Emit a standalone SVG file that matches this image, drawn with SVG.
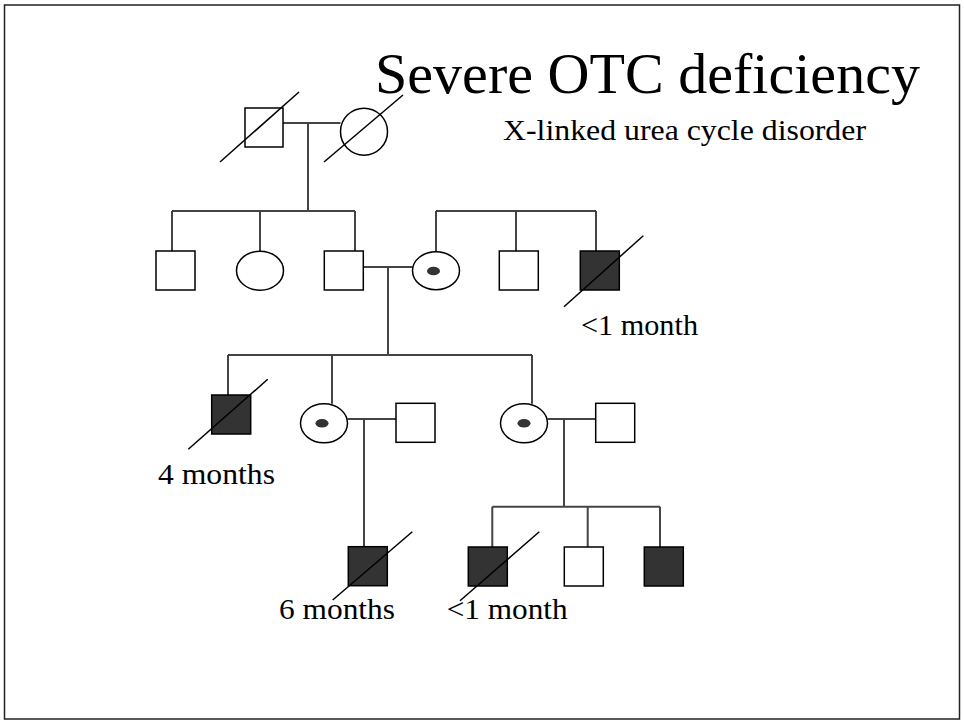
<svg xmlns="http://www.w3.org/2000/svg" width="964" height="723" viewBox="0 0 964 723">
  <style>
    .male { fill: #ffffff; stroke: #000000; stroke-width: 1.5; }
    .affected { fill: #333333; stroke: #000000; stroke-width: 1.5; }
    .female { fill: #ffffff; stroke: #000000; stroke-width: 1.5; }
    .carrier-dot { fill: #333333; stroke: none; }
    .deceased { stroke: #000000; stroke-width: 1.5; fill: none; }
    .link { stroke: #444444; stroke-width: 2; fill: none; }
    .title { font-family: "Liberation Serif", "Times New Roman", serif; font-size: 58px; fill: #000000; }
    .label { font-family: "Liberation Serif", "Times New Roman", serif; font-size: 30px; fill: #000000; }
  </style>

  <rect x="0" y="0" width="964" height="723" fill="#ffffff"/>
  <!-- slide frame -->
  <rect x="4.5" y="5" width="955" height="714" fill="none" stroke="#222222" stroke-width="1.5"/>

  <text class="title" x="375" y="93" textLength="545" lengthAdjust="spacingAndGlyphs">Severe OTC deficiency</text>
  <text class="label" x="503" y="140" textLength="363" lengthAdjust="spacingAndGlyphs">X-linked urea cycle disorder</text>

  <!-- connectors: marriage lines, descent lines and sibship lines -->
  <g id="connectors">
    <path class="link" d="M283,123 H340.5 M308,123 V211"/>
    <path class="link" d="M172,211 H355 M172,211 V251 M260,211 V251.2 M355,211 V251"/>
    <path class="link" d="M363.3,267 H412.5 M388,267 V355"/>
    <path class="link" d="M436,211 H596 M436,211 V251.7 M516,211 V251 M596,211 V251"/>
    <path class="link" d="M228,355 H532 M228,355 V395 M332,355 V403.8 M532,355 V403.8"/>
    <path class="link" d="M347.5,419 H396 M364,419 V546.7"/>
    <path class="link" d="M547.5,419 H595.7 M564,419 V506.7"/>
    <path class="link" d="M492.3,506.7 H660 M492.3,506.7 V547 M587.7,506.7 V547 M660,506.7 V547"/>
  </g>

  <!-- generation I -->
  <g id="grandfather">
    <rect class="male" x="245" y="108" width="38" height="39"/>
    <line class="deceased" x1="220" y1="162" x2="299" y2="92"/>
  </g>
  <g id="grandmother">
    <ellipse class="female" cx="364" cy="131.7" rx="23.5" ry="23.5"/>
    <line class="deceased" x1="324" y1="162" x2="403" y2="95"/>
  </g>

  <!-- generation II -->
  <g id="uncle">
    <rect class="male" x="156" y="251" width="39" height="39"/>
  </g>
  <g id="aunt">
    <ellipse class="female" cx="260" cy="270.7" rx="23.5" ry="19.5"/>
  </g>
  <g id="father">
    <rect class="male" x="324.3" y="251" width="39" height="39"/>
  </g>
  <g id="mother-carrier">
    <ellipse class="female" cx="436" cy="270.7" rx="23.5" ry="19"/>
    <ellipse class="carrier-dot" cx="433.5" cy="271" rx="6.5" ry="4.3"/>
  </g>
  <g id="maternal-uncle">
    <rect class="male" x="499.3" y="251" width="39" height="39"/>
  </g>
  <g id="maternal-uncle-affected">
    <rect class="affected" x="580.3" y="251" width="39" height="39"/>
    <line class="deceased" x1="564" y1="306.7" x2="643.3" y2="235.7"/>
    <text class="label" x="581" y="335" textLength="117" lengthAdjust="spacingAndGlyphs">&lt;1 month</text>
  </g>

  <!-- generation III -->
  <g id="son-affected">
    <rect class="affected" x="211.7" y="395" width="39" height="39"/>
    <line class="deceased" x1="188.3" y1="449.3" x2="267.7" y2="379.3"/>
    <text class="label" x="158" y="484" textLength="117" lengthAdjust="spacingAndGlyphs">4 months</text>
  </g>
  <g id="daughter1-carrier">
    <ellipse class="female" cx="324" cy="423.3" rx="23.5" ry="19.5"/>
    <ellipse class="carrier-dot" cx="322" cy="423.3" rx="6.5" ry="4.3"/>
  </g>
  <g id="son-in-law1">
    <rect class="male" x="396" y="403.3" width="39" height="39"/>
  </g>
  <g id="daughter2-carrier">
    <ellipse class="female" cx="524" cy="423.3" rx="23.5" ry="19.5"/>
    <ellipse class="carrier-dot" cx="524" cy="423.3" rx="6.5" ry="4.3"/>
  </g>
  <g id="son-in-law2">
    <rect class="male" x="595.7" y="403.3" width="39" height="39"/>
  </g>

  <!-- generation IV -->
  <g id="grandson1-affected">
    <rect class="affected" x="348.3" y="546.7" width="39" height="39"/>
    <line class="deceased" x1="332.7" y1="600" x2="412.3" y2="531.7"/>
    <text class="label" x="279" y="619" textLength="116" lengthAdjust="spacingAndGlyphs">6 months</text>
  </g>
  <g id="grandson2-affected">
    <rect class="affected" x="468.3" y="547" width="39" height="39"/>
    <line class="deceased" x1="460" y1="600.7" x2="539.3" y2="531.7"/>
    <text class="label" x="446.7" y="619" textLength="121" lengthAdjust="spacingAndGlyphs">&lt;1 month</text>
  </g>
  <g id="grandson3">
    <rect class="male" x="564.3" y="547" width="39" height="39"/>
  </g>
  <g id="grandson4-affected">
    <rect class="affected" x="644.3" y="547" width="39" height="39"/>
  </g>
</svg>
